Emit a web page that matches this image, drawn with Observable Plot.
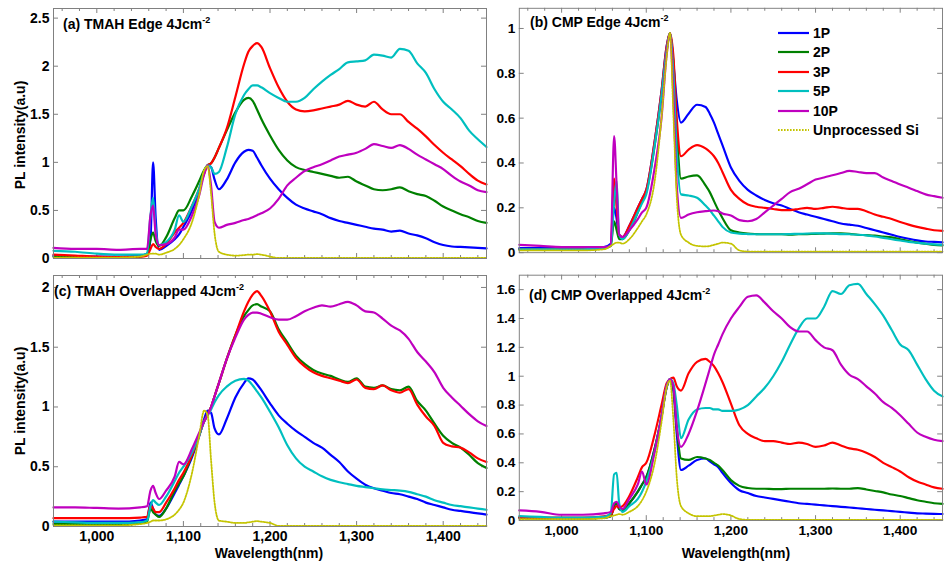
<!DOCTYPE html>
<html>
<head>
<meta charset="utf-8">
<script src="https://cdn.jsdelivr.net/npm/d3@7"></script>
<script src="https://cdn.jsdelivr.net/npm/@observablehq/plot@0.6"></script>
<style>
  body { margin: 0; background: #fff; }
  #fig { position: relative; width: 944px; height: 565px; overflow: hidden; background: #fff;
         font-family: "Liberation Sans", Arial, sans-serif; font-weight: bold; color: #000; }
  .panel { position: absolute; }
  .title { position: absolute; font-size: 14px; white-space: nowrap; line-height: 16px; }
  .title sup { font-size: 9px; vertical-align: 0; position: relative; top: -6px; }
  .ylab { position: absolute; font-size: 14px; white-space: nowrap; transform: translate(-50%, -50%) rotate(-90deg); }
  .xlab { position: absolute; font-size: 14px; white-space: nowrap; transform: translateX(-50%); }
  .lg { position: absolute; font-size: 14px; white-space: nowrap; line-height: 16px; display: flex; align-items: center; }
  .lg svg { margin-right: 4px; }
</style>
</head>
<body>
<div id="fig"></div>
<script>
// Sampling wavelengths (nm), shared by every spectrum
const wavelength = [950, 975, 1000, 1025, 1050,
  1058, 1062, 1065, 1068, 1072,
  1080, 1090, 1095, 1100,
  1110, 1118, 1124, 1128,
  1132, 1136, 1141,
  1150, 1160, 1170, 1175, 1180, 1185, 1190,
  1200, 1210, 1220, 1230, 1240, 1250, 1260, 1270, 1280, 1290, 1300, 1310, 1320, 1330, 1340, 1350, 1360, 1370, 1380, 1390, 1400, 1410, 1420, 1430, 1440, 1450];

const seriesNames = ["1P", "2P", "3P", "5P", "10P", "Unprocessed Si"];
const seriesColors = ["#0000ff", "#008000", "#ff0000", "#00bfbf", "#bf00bf", "#c4c400"];

// (a) TMAH edge, 4 J/cm2
const tmahEdge1P = [0.03, 0.02, 0.02, 0.02, 0.03,
  0.05, 0.2, 1.0, 0.42, 0.09,
  0.13, 0.2, 0.25, 0.33,
  0.5, 0.7, 0.9, 0.97,
  0.95, 0.82, 0.72,
  0.82, 1.0, 1.11, 1.13, 1.12, 1.05, 0.97,
  0.83, 0.72, 0.63, 0.56, 0.52, 0.49, 0.46, 0.42, 0.39, 0.37, 0.35, 0.33, 0.31, 0.3, 0.28, 0.29, 0.26, 0.24, 0.21, 0.17, 0.14, 0.125, 0.12, 0.115, 0.11, 0.105];
const tmahEdge2P = [0.02, 0.015, 0.01, 0.01, 0.02,
  0.04, 0.2, 0.27, 0.18, 0.13,
  0.22, 0.42, 0.5, 0.5,
  0.65, 0.8, 0.92, 0.97,
  0.99, 1.05, 1.15,
  1.33, 1.52, 1.65, 1.67, 1.64, 1.55, 1.45,
  1.28, 1.13, 1.02, 0.95, 0.92, 0.9, 0.88, 0.86, 0.84, 0.85, 0.8, 0.76, 0.72, 0.71, 0.72, 0.74, 0.7, 0.67, 0.65, 0.6, 0.54, 0.5, 0.46, 0.43, 0.39, 0.37];
const tmahEdge3P = [0.04, 0.03, 0.02, 0.015, 0.02,
  0.03, 0.1, 0.15, 0.12, 0.1,
  0.15, 0.27, 0.32, 0.37,
  0.55, 0.72, 0.88, 0.97,
  0.99, 1.05, 1.15,
  1.35, 1.68, 2.02, 2.15, 2.21, 2.24, 2.2,
  1.98, 1.78, 1.63, 1.55, 1.53, 1.54, 1.56, 1.58, 1.6, 1.64, 1.6, 1.58, 1.63, 1.55, 1.5, 1.5, 1.42, 1.35, 1.27, 1.18, 1.1, 1.03, 0.96, 0.88, 0.81, 0.77];
const tmahEdge5P = [0.08, 0.07, 0.05, 0.04, 0.04,
  0.05, 0.45, 0.63, 0.3, 0.14,
  0.17, 0.3, 0.45, 0.38,
  0.55, 0.72, 0.9, 0.97,
  0.95, 0.88, 0.9,
  1.15, 1.5, 1.7, 1.76, 1.8, 1.8, 1.78,
  1.72, 1.67, 1.63, 1.63, 1.67, 1.76, 1.84, 1.91, 1.97, 2.04, 2.05, 2.06, 2.12, 2.11, 2.09, 2.18, 2.16, 2.03, 1.93, 1.76, 1.63, 1.55, 1.46, 1.33, 1.24, 1.16];
const tmahEdge10P = [0.11, 0.1, 0.1, 0.09, 0.1,
  0.1, 0.45, 0.55, 0.25, 0.14,
  0.15, 0.22, 0.3, 0.3,
  0.45, 0.65, 0.88, 0.97,
  0.75, 0.38, 0.32,
  0.35, 0.37, 0.4, 0.41, 0.43, 0.45, 0.47,
  0.52, 0.62, 0.76, 0.84, 0.91, 0.95, 0.98, 1.02, 1.06, 1.08, 1.1, 1.14, 1.19, 1.17, 1.15, 1.18, 1.14, 1.08, 1.03, 0.98, 0.93, 0.86, 0.8, 0.76, 0.71, 0.69];
const tmahEdgeSi = [0.01, 0.01, 0.01, 0.01, 0.02,
  0.04, 0.05, 0.05, 0.05, 0.04,
  0.06, 0.1, 0.14, 0.2,
  0.38, 0.65, 0.92, 0.96,
  0.67, 0.26, 0.07,
  0.04, 0.03, 0.035, 0.04, 0.04, 0.045, 0.04,
  0.02, 0.005, 0.005, 0.005, 0.005, 0.005, 0.005, 0.005, 0.005, 0.005, 0.005, 0.005, 0.005, 0.005, 0.005, 0.005, 0.005, 0.005, 0.005, 0.005, 0.005, 0.005, 0.005, 0.005, 0.005, 0.005];

// (b) CMP edge, 4 J/cm2
const cmpEdge1P = [0.02, 0.02, 0.02, 0.02, 0.025,
  0.04, 0.2, 0.15, 0.07, 0.07,
  0.12, 0.2, 0.24, 0.28,
  0.5, 0.72, 0.92, 0.98,
  0.85, 0.68, 0.58,
  0.62, 0.66, 0.65, 0.62, 0.58, 0.53, 0.48,
  0.38, 0.32, 0.28, 0.255, 0.235, 0.22, 0.21, 0.195, 0.18, 0.17, 0.16, 0.15, 0.14, 0.13, 0.125, 0.12, 0.11, 0.1, 0.09, 0.08, 0.07, 0.062, 0.055, 0.05, 0.048, 0.046];
const cmpEdge2P = [0.015, 0.015, 0.015, 0.015, 0.02,
  0.03, 0.14, 0.1, 0.06, 0.06,
  0.1, 0.18, 0.23, 0.27,
  0.48, 0.7, 0.9, 0.98,
  0.85, 0.55, 0.33,
  0.34, 0.345, 0.3, 0.27, 0.23, 0.19, 0.155,
  0.1, 0.09, 0.085, 0.083, 0.082, 0.082, 0.082, 0.08, 0.082, 0.083, 0.084, 0.085, 0.086, 0.086, 0.084, 0.08, 0.078, 0.076, 0.072, 0.068, 0.06, 0.052, 0.045, 0.04, 0.035, 0.032];
const cmpEdge3P = [0.015, 0.015, 0.015, 0.015, 0.02,
  0.03, 0.33, 0.2, 0.08, 0.07,
  0.12, 0.2, 0.24, 0.28,
  0.5, 0.72, 0.92, 0.98,
  0.88, 0.6, 0.43,
  0.46, 0.48, 0.465, 0.45, 0.43, 0.4, 0.36,
  0.28, 0.24, 0.215, 0.205, 0.2, 0.195, 0.19, 0.19, 0.195, 0.2, 0.195, 0.2, 0.205, 0.2, 0.195, 0.195, 0.185, 0.17, 0.16, 0.15, 0.137, 0.125, 0.115, 0.107, 0.1, 0.097];
const cmpEdge5P = [0.015, 0.015, 0.015, 0.015, 0.02,
  0.03, 0.22, 0.32, 0.08, 0.06,
  0.1, 0.18, 0.22, 0.26,
  0.48, 0.7, 0.9, 0.98,
  0.8, 0.45, 0.26,
  0.255, 0.245, 0.21, 0.19, 0.165, 0.14, 0.115,
  0.09, 0.085, 0.083, 0.082, 0.082, 0.082, 0.082, 0.083, 0.084, 0.085, 0.086, 0.086, 0.085, 0.083, 0.082, 0.08, 0.077, 0.072, 0.066, 0.06, 0.054, 0.048, 0.044, 0.04, 0.037, 0.035];
const cmpEdge10P = [0.035, 0.03, 0.025, 0.025, 0.025,
  0.03, 0.52, 0.3, 0.08, 0.07,
  0.1, 0.15, 0.18, 0.2,
  0.38, 0.6, 0.88, 0.98,
  0.7, 0.3, 0.155,
  0.17, 0.18, 0.185, 0.187, 0.188, 0.185, 0.175,
  0.166, 0.145, 0.14, 0.15, 0.18, 0.21, 0.24, 0.27, 0.285, 0.305, 0.326, 0.335, 0.345, 0.355, 0.365, 0.36, 0.355, 0.355, 0.335, 0.32, 0.304, 0.29, 0.275, 0.26, 0.252, 0.245];
const cmpEdgeSi = [0.01, 0.01, 0.01, 0.01, 0.015,
  0.03, 0.04, 0.045, 0.045, 0.04,
  0.06, 0.11, 0.14, 0.17,
  0.32, 0.6, 0.87, 0.98,
  0.62, 0.25, 0.08,
  0.045, 0.03, 0.028, 0.03, 0.035, 0.04, 0.045,
  0.04, 0.01, 0.005, 0.005, 0.005, 0.005, 0.005, 0.005, 0.005, 0.005, 0.005, 0.005, 0.005, 0.005, 0.005, 0.005, 0.005, 0.005, 0.005, 0.005, 0.005, 0.005, 0.005, 0.005, 0.005, 0.005];

// (c) TMAH overlapped, 4 J/cm2
const tmahOver1P = [0.04, 0.04, 0.04, 0.04, 0.05,
  0.06, 0.2, 0.15, 0.1, 0.09,
  0.15, 0.28, 0.35, 0.42,
  0.58, 0.75, 0.9, 0.97,
  0.95, 0.82, 0.77,
  0.9, 1.08, 1.2, 1.24, 1.23, 1.19, 1.14,
  1.03, 0.93, 0.86, 0.8, 0.75, 0.7, 0.66, 0.6, 0.54, 0.46, 0.4, 0.35, 0.32, 0.3, 0.28, 0.27, 0.25, 0.23, 0.2, 0.18, 0.16, 0.14, 0.13, 0.12, 0.11, 0.1];
const tmahOver2P = [0.02, 0.02, 0.02, 0.02, 0.03,
  0.04, 0.15, 0.12, 0.1, 0.08,
  0.15, 0.3, 0.36, 0.42,
  0.6, 0.76, 0.88, 0.94,
  1.0, 1.09, 1.2,
  1.4, 1.6, 1.76, 1.81, 1.85, 1.86, 1.84,
  1.8, 1.65, 1.54, 1.43, 1.36, 1.31, 1.28, 1.26, 1.23, 1.21, 1.24, 1.17, 1.16, 1.18, 1.15, 1.14, 1.17, 1.05, 0.97, 0.86, 0.76, 0.7, 0.66, 0.6, 0.53, 0.49];
const tmahOver3P = [0.07, 0.07, 0.07, 0.07, 0.075,
  0.08, 0.18, 0.15, 0.12, 0.12,
  0.2, 0.32, 0.39, 0.45,
  0.6, 0.76, 0.88, 0.94,
  1.0, 1.09, 1.2,
  1.4, 1.6, 1.8, 1.88, 1.94, 1.97, 1.93,
  1.8, 1.63, 1.52, 1.41, 1.34, 1.29, 1.26, 1.24, 1.22, 1.2, 1.23, 1.16, 1.15, 1.18, 1.14, 1.12, 1.15, 1.02, 0.92, 0.84, 0.7, 0.67, 0.66, 0.62, 0.57, 0.54];
const tmahOver5P = [0.04, 0.035, 0.03, 0.03, 0.035,
  0.05, 0.17, 0.22, 0.2, 0.18,
  0.25, 0.38, 0.45, 0.5,
  0.62, 0.76, 0.88, 0.93,
  0.98, 1.04, 1.1,
  1.17, 1.22, 1.235, 1.22, 1.18, 1.13, 1.08,
  0.96, 0.83, 0.68, 0.57, 0.5, 0.46, 0.42, 0.39, 0.37, 0.355, 0.34, 0.33, 0.32, 0.31, 0.305, 0.3, 0.29, 0.27, 0.25, 0.22, 0.2, 0.18, 0.17, 0.16, 0.15, 0.14];
const tmahOver10P = [0.16, 0.16, 0.155, 0.15, 0.16,
  0.17, 0.3, 0.34, 0.28, 0.23,
  0.3, 0.42, 0.54, 0.52,
  0.65, 0.78, 0.88, 0.93,
  1.0, 1.09, 1.2,
  1.4, 1.58, 1.73, 1.77, 1.79, 1.79, 1.78,
  1.75, 1.73, 1.73, 1.76, 1.8, 1.83, 1.85, 1.84, 1.86, 1.88, 1.85, 1.8, 1.79, 1.74, 1.68, 1.64, 1.57, 1.46, 1.38, 1.29, 1.16, 1.08, 1.01, 0.94, 0.88, 0.84];
const tmahOverSi = [0.01, 0.01, 0.01, 0.01, 0.02,
  0.03, 0.04, 0.05, 0.05, 0.05,
  0.06, 0.1, 0.14, 0.2,
  0.45, 0.75, 0.97, 0.93,
  0.55, 0.2, 0.05,
  0.04, 0.03, 0.03, 0.035, 0.04, 0.045, 0.04,
  0.03, 0.005, 0.005, 0.005, 0.005, 0.005, 0.005, 0.005, 0.005, 0.005, 0.005, 0.005, 0.005, 0.005, 0.005, 0.005, 0.005, 0.005, 0.005, 0.005, 0.005, 0.005, 0.005, 0.005, 0.005, 0.005];

// (d) CMP overlapped, 4 J/cm2
const cmpOver1P = [0.02, 0.015, 0.015, 0.015, 0.02,
  0.03, 0.1, 0.12, 0.08, 0.07,
  0.12, 0.2, 0.25, 0.3,
  0.5, 0.72, 0.92, 0.98,
  0.9, 0.6, 0.35,
  0.38, 0.42, 0.43, 0.41, 0.39, 0.37, 0.33,
  0.26, 0.21, 0.19, 0.17, 0.16, 0.15, 0.14, 0.13, 0.12, 0.115, 0.11, 0.105, 0.1, 0.095, 0.09, 0.085, 0.08, 0.075, 0.07, 0.065, 0.06, 0.055, 0.05, 0.048, 0.046, 0.045];
const cmpOver2P = [0.02, 0.015, 0.015, 0.015, 0.02,
  0.03, 0.1, 0.12, 0.08, 0.07,
  0.12, 0.2, 0.25, 0.3,
  0.5, 0.72, 0.92, 0.98,
  0.92, 0.65, 0.43,
  0.42, 0.44, 0.43, 0.42, 0.4, 0.38, 0.35,
  0.28, 0.24, 0.225, 0.22, 0.22, 0.218, 0.218, 0.22, 0.22, 0.22, 0.22, 0.22, 0.222, 0.22, 0.22, 0.225, 0.215, 0.205, 0.195, 0.18, 0.17, 0.155, 0.14, 0.13, 0.12, 0.115];
const cmpOver3P = [0.02, 0.02, 0.02, 0.02, 0.03,
  0.04, 0.08, 0.1, 0.09, 0.1,
  0.17, 0.3, 0.37, 0.4,
  0.6, 0.8, 0.95, 0.98,
  0.99, 0.93, 0.9,
  1.02, 1.1, 1.12, 1.1, 1.07, 1.02, 0.96,
  0.81, 0.66, 0.6, 0.57, 0.55, 0.55, 0.54, 0.53, 0.54, 0.53, 0.51, 0.52, 0.54, 0.52, 0.5, 0.49, 0.47, 0.44, 0.4, 0.37, 0.34, 0.3, 0.27, 0.25, 0.23, 0.22];
const cmpOver5P = [0.03, 0.025, 0.02, 0.02, 0.025,
  0.05, 0.32, 0.33, 0.12, 0.06,
  0.1, 0.15, 0.2, 0.27,
  0.48, 0.72, 0.93, 0.98,
  0.95, 0.8, 0.57,
  0.7, 0.77, 0.78, 0.78, 0.77, 0.77, 0.76,
  0.76, 0.77, 0.8, 0.86, 0.92, 1.0, 1.1, 1.22, 1.33, 1.4, 1.4, 1.48, 1.59, 1.57, 1.63, 1.64, 1.57, 1.5, 1.42, 1.32, 1.22, 1.18, 1.08, 0.98, 0.9, 0.86];
const cmpOver10P = [0.07, 0.06, 0.04, 0.04, 0.05,
  0.06, 0.12, 0.13, 0.1, 0.08,
  0.15, 0.25, 0.34, 0.25,
  0.48, 0.72, 0.93, 0.98,
  0.93, 0.65, 0.51,
  0.6, 0.76, 0.95, 1.05, 1.15, 1.22, 1.29,
  1.4, 1.48, 1.55, 1.56, 1.51, 1.45, 1.4, 1.34, 1.31, 1.31, 1.25, 1.2, 1.18, 1.08, 1.01, 0.98, 0.93, 0.88, 0.82, 0.78, 0.73, 0.67, 0.61, 0.58, 0.56, 0.55];
const cmpOverSi = [0.01, 0.01, 0.01, 0.01, 0.015,
  0.03, 0.035, 0.04, 0.045, 0.04,
  0.06, 0.1, 0.14, 0.2,
  0.4, 0.68, 0.92, 0.97,
  0.7, 0.3, 0.1,
  0.05, 0.03, 0.03, 0.03, 0.035, 0.04, 0.045,
  0.035, 0.01, 0.005, 0.005, 0.005, 0.005, 0.005, 0.005, 0.005, 0.005, 0.005, 0.005, 0.005, 0.005, 0.005, 0.005, 0.005, 0.005, 0.005, 0.005, 0.005, 0.005, 0.005, 0.005, 0.005, 0.005];

// Axis ticks
const xMajorTicks = [1000, 1100, 1200, 1300, 1400];
const xMinorTicks = [960, 980, 1020, 1040, 1060, 1080, 1120, 1140, 1160, 1180, 1220, 1240, 1260, 1280, 1320, 1340, 1360, 1380, 1420, 1440];
const yTicksA = [0, 0.5, 1, 1.5, 2, 2.5];
const yTicksB = [0, 0.2, 0.4, 0.6, 0.8, 1];
const yTicksC = [0, 0.5, 1, 1.5, 2];
const yTicksD = [0, 0.2, 0.4, 0.6, 0.8, 1, 1.2, 1.4, 1.6];

const fig = document.getElementById("fig");
const axisGray = "#808080";
const dotPattern = "1.6,1.4";

function panel({left, top, height, marginTop, marginBottom, yMax, yTicks, showX, series}) {
  const width = 488, marginLeft = 53, marginRight = 2;
  const innerW = width - marginLeft - marginRight;
  const innerH = height - marginTop - marginBottom;
  const rows = series.flatMap((vals, i) => vals.map((v, j) => ({w: wavelength[j], v, s: seriesNames[i]})));
  const solid = rows.filter(d => d.s !== "Unprocessed Si");
  const dotted = rows.filter(d => d.s === "Unprocessed Si");
  const marks = [
    Plot.tickX(xMinorTicks, {x: d => d, stroke: axisGray, insetTop: innerH - 3}),
    Plot.tickX(xMinorTicks, {x: d => d, stroke: axisGray, insetBottom: innerH - 3}),
    Plot.tickX(xMajorTicks, {x: d => d, stroke: axisGray, insetTop: innerH - 5}),
    Plot.tickX(xMajorTicks, {x: d => d, stroke: axisGray, insetBottom: innerH - 5}),
    Plot.tickY(yTicks, {y: d => d, stroke: axisGray, insetRight: innerW - 5}),
    Plot.tickY(yTicks, {y: d => d, stroke: axisGray, insetLeft: innerW - 5}),
    Plot.axisY({ticks: yTicks, tickSize: 0, tickPadding: 4, tickFormat: d => String(d), label: null}),
    Plot.line(solid, {x: "w", y: "v", z: "s", stroke: "s", strokeWidth: 2.2, curve: "monotone-x"}),
    Plot.line(dotted, {x: "w", y: "v", stroke: seriesColors[5], strokeWidth: 1.8, strokeDasharray: dotPattern, curve: "monotone-x"}),
    Plot.frame({stroke: axisGray})
  ];
  if (showX) marks.push(Plot.axisX({ticks: xMajorTicks, tickSize: 0, tickPadding: 5, tickFormat: d3.format(","), label: null}));
  const svg = Plot.plot({
    width, height, marginLeft, marginRight, marginTop, marginBottom,
    x: {domain: [950, 1450], axis: showX ? undefined : null},
    y: {domain: [0, yMax]},
    color: {domain: seriesNames, range: seriesColors},
    style: {fontFamily: "'Liberation Sans', Arial, sans-serif", fontSize: "14px", fontWeight: "bold", color: "#000", background: "transparent"},
    marks
  });
  const host = document.createElement("div");
  host.className = "panel";
  host.style.left = left + "px";
  host.style.top = top + "px";
  host.appendChild(svg);
  fig.appendChild(host);
}

panel({left: 0, top: 0, height: 274, marginTop: 8, marginBottom: 16, yMax: 2.6, yTicks: yTicksA, showX: false,
  series: [tmahEdge1P, tmahEdge2P, tmahEdge3P, tmahEdge5P, tmahEdge10P, tmahEdgeSi]});
panel({left: 467, top: 0, height: 274, marginTop: 8, marginBottom: 16, yMax: 1.09, yTicks: yTicksB, showX: false,
  series: [cmpEdge1P, cmpEdge2P, cmpEdge3P, cmpEdge5P, cmpEdge10P, cmpEdgeSi]});
panel({left: 0, top: 262, height: 303, marginTop: 13, marginBottom: 39, yMax: 2.1, yTicks: yTicksC, showX: true,
  series: [tmahOver1P, tmahOver2P, tmahOver3P, tmahOver5P, tmahOver10P, tmahOverSi]});
panel({left: 467, top: 262, height: 303, marginTop: 13, marginBottom: 39, yMax: 1.7, yTicks: yTicksD, showX: true,
  series: [cmpOver1P, cmpOver2P, cmpOver3P, cmpOver5P, cmpOver10P, cmpOverSi]});

// Panel titles, axis titles and the legend
function addText(cls, html, left, top) {
  const el = document.createElement("div");
  el.className = cls;
  el.innerHTML = html;
  el.style.left = left + "px";
  el.style.top = top + "px";
  fig.appendChild(el);
  return el;
}
addText("title", "(a) TMAH Edge 4Jcm<sup>-2</sup>", 63, 16);
addText("title", "(b) CMP Edge 4Jcm<sup>-2</sup>", 530, 14);
addText("title", "(c) TMAH Overlapped 4Jcm<sup>-2</sup>", 54, 283);
addText("title", "(d) CMP Overlapped 4Jcm<sup>-2</sup>", 529, 287);
addText("ylab", "PL intensity(a.u)", 20, 135);
addText("ylab", "PL intensity(a.u)", 20, 401);
addText("xlab", "Wavelength(nm)", 269, 545);
addText("xlab", "Wavelength(nm)", 736, 545);

seriesNames.forEach((name, i) => {
  const dash = i === 5 ? ` stroke-dasharray="${dotPattern}"` : "";
  const sw = i === 5 ? 1.8 : 2.2;
  addText("lg",
    `<svg width="31" height="6"><line x1="0" x2="31" y1="3" y2="3" stroke="${seriesColors[i]}" stroke-width="${sw}"${dash}/></svg>${name}`,
    778, 25 + i * 19.4);
});
</script>
</body>
</html>
